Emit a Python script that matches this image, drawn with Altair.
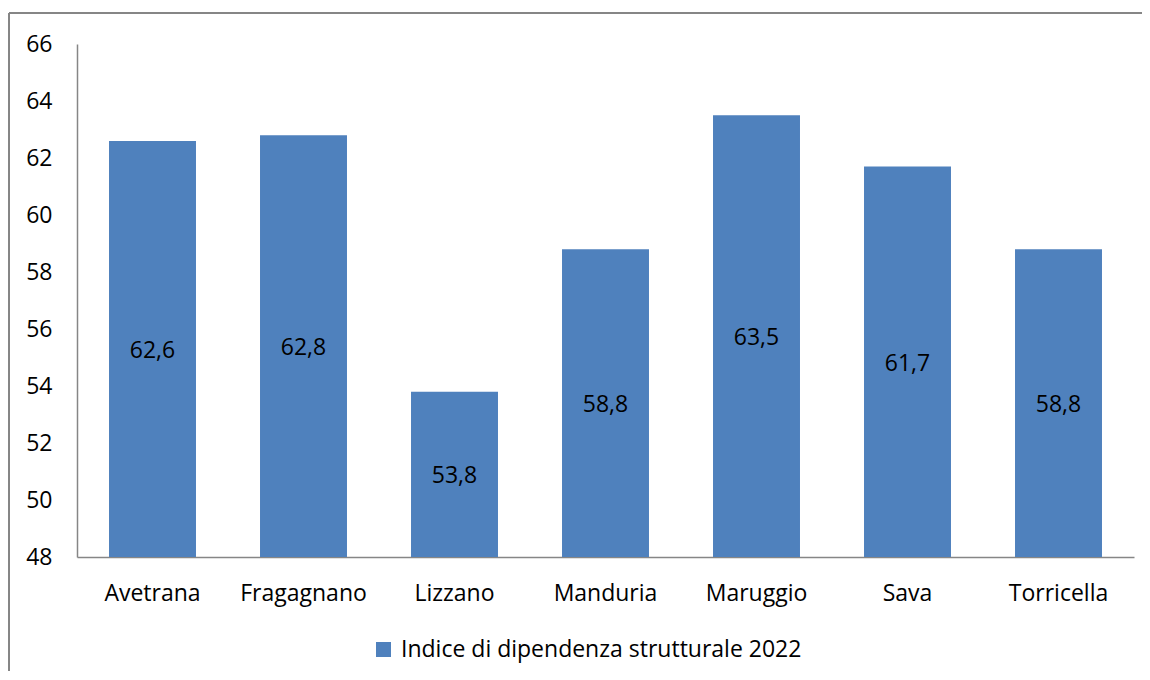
import altair as alt
import pandas as pd

comuni = ["Avetrana", "Fragagnano", "Lizzano", "Manduria", "Maruggio", "Sava", "Torricella"]
valori = [62.6, 62.8, 53.8, 58.8, 63.5, 61.7, 58.8]
serie = "Indice di dipendenza strutturale 2022"
y_min, y_max = 48, 66
y_ticks = list(range(48, 67, 2))

df = pd.DataFrame({"comune": comuni, "valore": valori, "serie": serie})

FONT = "Open Sans"
GRAY = "#868686"
BLUE = "#4F81BD"

x_enc = alt.X("comune:N", sort=comuni, title=None,
              scale=alt.Scale(paddingInner=0.424, paddingOuter=0.212),
              axis=alt.Axis(labelAngle=0, ticks=False, tickSize=0, labelPadding=25,
                            labelFontSize=23, labelFont=FONT, labelColor="#000000",
                            domainColor=GRAY, domainWidth=1.5, grid=False))
y_scale = alt.Scale(domain=[y_min, y_max], zero=False, nice=False)

bars = alt.Chart(df).mark_bar().encode(
    x=x_enc,
    y=alt.Y("valore:Q", scale=y_scale, title=None,
            axis=alt.Axis(values=y_ticks, ticks=False, tickSize=0, labelPadding=25,
                          labelFontSize=23, labelFont=FONT, labelColor="#000000",
                          domainColor=GRAY, domainWidth=1.5, grid=False)),
    y2=alt.datum(y_min),
    color=alt.Color("serie:N", scale=alt.Scale(range=[BLUE]), title=None,
                    legend=alt.Legend(orient="none", legendX=295, legendY=594,
                                      symbolType="square", symbolSize=225,
                                      symbolStrokeWidth=0, labelFontSize=23,
                                      labelFont=FONT, labelColor="#000000",
                                      labelOffset=6, labelLimit=0)),
)

labels = alt.Chart(df).transform_calculate(
    mid="(datum.valore + %d) / 2" % y_min,
    lab="replace(format(datum.valore, '.1f'), '.', ',')",
).mark_text(font=FONT, fontSize=23, color="#000000", baseline="middle", dy=2).encode(
    x=alt.X("comune:N", sort=comuni),
    y=alt.Y("mid:Q", scale=y_scale),
    text="lab:N",
)

frame_top = alt.Chart(df).mark_rule(color=GRAY, strokeWidth=1.7).encode(
    x=alt.value(-68), x2=alt.value(1200), y=alt.value(-31)
)
frame_left = alt.Chart(df).mark_rule(color=GRAY, strokeWidth=1.7).encode(
    x=alt.value(-68), y=alt.value(-31), y2=alt.value(700)
)

chart = alt.layer(bars, labels, frame_top, frame_left).properties(
    width=1057, height=513,
    autosize=alt.AutoSizeParams(type="none"),
    padding={"left": 69, "top": 36, "right": 8, "bottom": 114},
).configure_view(stroke=None)

chart.save("out.html", embed_options={"renderer": "svg", "actions": False})
